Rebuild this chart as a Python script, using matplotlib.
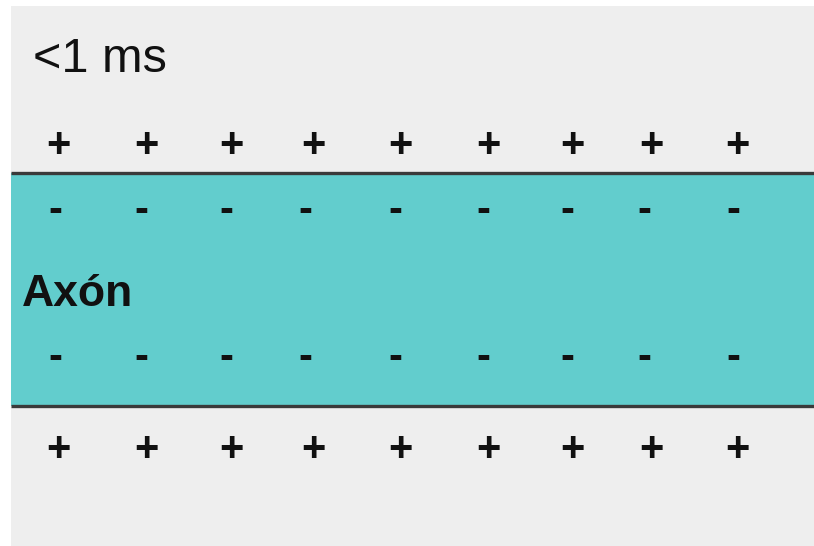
import matplotlib
matplotlib.use("Agg")
import matplotlib.pyplot as plt
from matplotlib.patches import Rectangle

# Data
title_text = "<1 ms"
axon_label = "Axón"
plus_x = [58, 146, 231, 313, 400, 488, 572, 651, 737]
minus_x = [55, 141, 226, 305, 395, 483, 567, 644, 733]
row_signs = ["+", "-", "-", "+"]
row_y = [143, 208, 355, 447]

fig = plt.figure(figsize=(8.14, 5.46), dpi=100)
ax = fig.add_axes([0, 0, 1, 1])
ax.set_xlim(0, 814)
ax.set_ylim(546, 0)
ax.axis("off")
fig.patch.set_facecolor("white")

ax.add_patch(Rectangle((11, 6), 803, 540, facecolor="#eeeeee", edgecolor="none", zorder=0))
ax.add_patch(Rectangle((11, 173), 803, 233, facecolor="#62cdcd", edgecolor="none", zorder=1))
ax.plot([11, 814], [173, 173], color="#3a3a3a", lw=2.4, zorder=2, solid_capstyle="butt")
ax.plot([11, 814], [406, 406], color="#3a3a3a", lw=2.4, zorder=2, solid_capstyle="butt")

ax.text(33, 60, title_text, fontsize=35, family="Liberation Sans", ha="left", va="center", color="#111111")
ax.text(22, 294, axon_label, fontsize=32, family="Liberation Sans", fontweight="bold",
        ha="left", va="center", color="#111111")

for sign, y in zip(row_signs, row_y):
    xs = plus_x if sign == "+" else minus_x
    for x in xs:
        ax.text(x, y + 3, sign, fontsize=30, family="Liberation Sans", fontweight="bold",
                ha="center", va="center", color="#111111", zorder=3)

fig.savefig("out.png", dpi=100)
